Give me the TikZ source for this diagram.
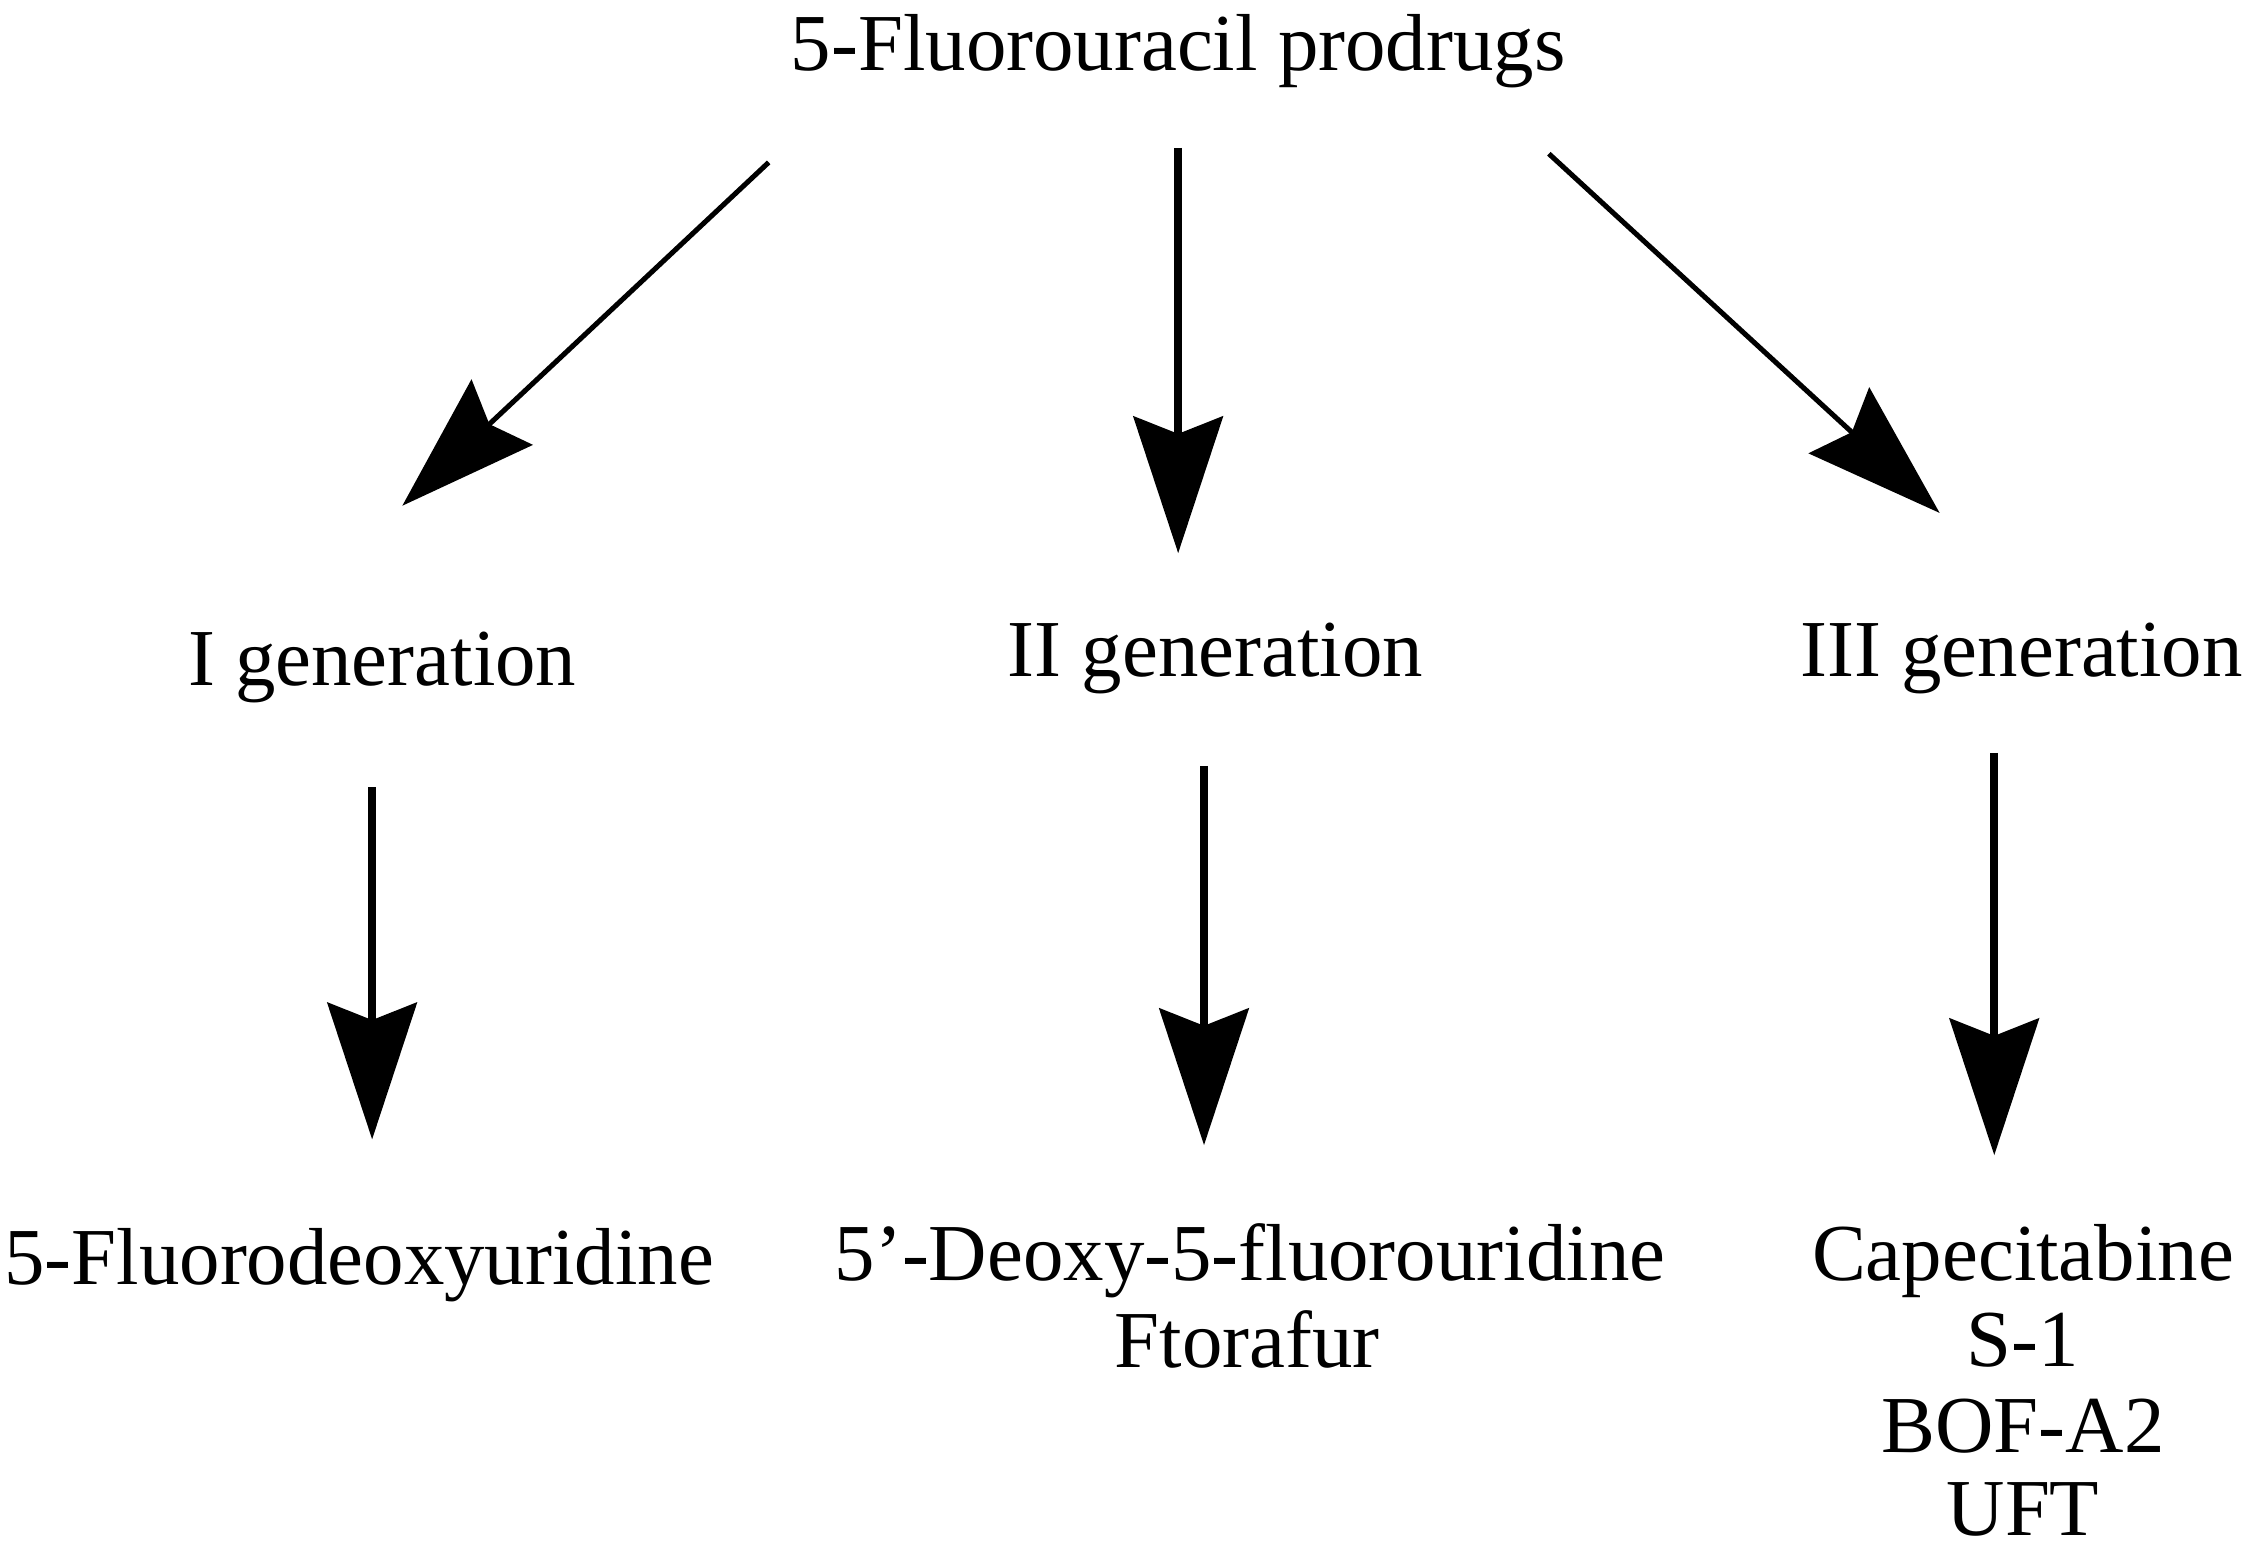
\documentclass[tikz,border=0pt]{standalone}
\usepackage{fontspec}
\setmainfont{Liberation Serif}
\usetikzlibrary{arrows.meta}
\begin{document}
\begin{tikzpicture}[x=0.01cm,y=-0.01cm,
  lbl/.style={font=\fontsize{16pt}{19pt}\selectfont,align=center,inner sep=0,text height=0.38cm,text depth=0.1cm},
  arr/.style={line width=1.6pt,-{Stealth[length=0.95cm,width=0.62cm,inset=0.12cm]}},
  darr/.style={line width=1pt,-{Stealth[length=0.95cm,width=0.62cm,inset=0.12cm]}}]
\useasboundingbox (0,0) rectangle (1566,1081);
\node[lbl] (top) at (820,35) {5-Fluorouracil prodrugs};
\node[lbl] (g1) at (266,463) {I generation};
\node[lbl] (g2) at (846,457) {II generation};
\node[lbl] (g3) at (1407,457) {III generation};
\node[lbl] (d1) at (250,880) {5-Fluorodeoxyuridine};
\node[lbl] (d2a) at (870,877) {5’-Deoxy-5-fluorouridine};
\node[lbl] (d2b) at (868,938) {Ftorafur};
\node[lbl] (d3a) at (1408,877) {Capecitabine};
\node[lbl] (d3b) at (1408,937) {S-1};
\node[lbl] (d3c) at (1408,997) {BOF-A2};
\node[lbl] (d3d) at (1408,1055) {UFT};
\coordinate (a1s) at (535,113); \coordinate (a1e) at (280,352);
\coordinate (a2s) at (820,103); \coordinate (a2e) at (820,385);
\coordinate (a3s) at (1078,107); \coordinate (a3e) at (1350,357);
\coordinate (b1s) at (259,548); \coordinate (b1e) at (259,793);
\coordinate (b2s) at (838,533); \coordinate (b2e) at (838,797);
\coordinate (b3s) at (1388,524); \coordinate (b3e) at (1388,804);
\draw[darr] (a1s) -- (a1e);
\draw[arr] (a2s) -- (a2e);
\draw[darr] (a3s) -- (a3e);
\draw[arr] (b1s) -- (b1e);
\draw[arr] (b2s) -- (b2e);
\draw[arr] (b3s) -- (b3e);
\end{tikzpicture}
\end{document}
